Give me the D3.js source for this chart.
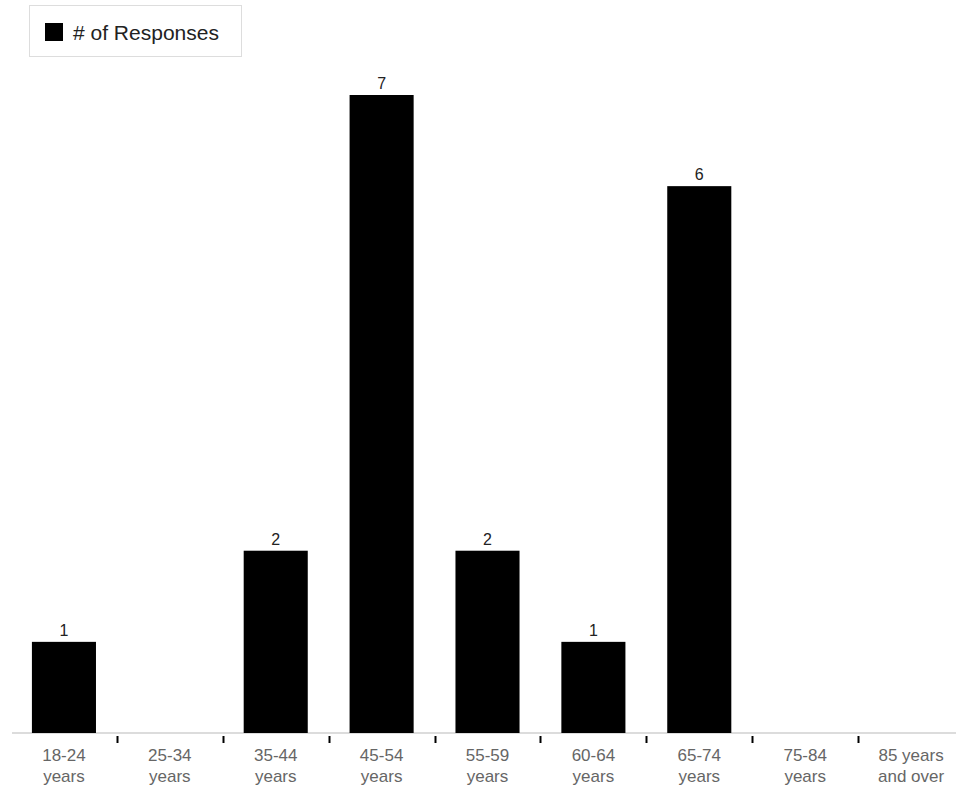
<!DOCTYPE html>
<html><head><meta charset="utf-8">
<script src="https://cdn.jsdelivr.net/npm/d3@7"></script>
<style>body{margin:0;background:#fff}svg{display:block;font-family:"Liberation Sans",Arial,sans-serif}</style>
</head><body>
<svg id="c" width="956" height="792"></svg>
<script>
const categories = ["18-24 years","25-34 years","35-44 years","45-54 years","55-59 years","60-64 years","65-74 years","75-84 years","85 years and over"];
const tickLines = [["18-24","years"],["25-34","years"],["35-44","years"],["45-54","years"],["55-59","years"],["60-64","years"],["65-74","years"],["75-84","years"],["85 years","and over"]];
const responses = [1,0,2,7,2,1,6,0,0];
const seriesName = "# of Responses";

const data = categories.map((c, i) => ({cat: c, value: responses[i], lines: tickLines[i]}));

const svg = d3.select("#c");
const x = d3.scaleBand().domain(categories).range([11, 964]).paddingInner(0.395).paddingOuter(0.1975);
const y = d3.scaleLinear().domain([0, 7]).range([733, 95]);

// axis line
svg.append("line").attr("x1", 12).attr("x2", 956).attr("y1", 733).attr("y2", 733)
  .attr("stroke", "#dcdcdc").attr("stroke-width", 2);

// ticks between bands
const step = x.step();
categories.slice(1).forEach(c => {
  const xx = Math.round(x(c) - x.paddingInner()*step/2) + 0.5;
  svg.append("line").attr("x1", xx).attr("x2", xx).attr("y1", 736).attr("y2", 743)
    .attr("stroke", "#000").attr("stroke-width", 2);
});

// bars
svg.append("g").selectAll("rect").data(data).join("rect")
  .attr("x", d => x(d.cat))
  .attr("width", x.bandwidth())
  .attr("y", d => y(d.value))
  .attr("height", d => y(0) - y(d.value))
  .attr("fill", "#000");

// value labels
svg.append("g").selectAll("text").data(data.filter(d => d.value > 0)).join("text")
  .attr("x", d => x(d.cat) + x.bandwidth()/2)
  .attr("y", d => y(d.value) - 6)
  .attr("text-anchor", "middle")
  .attr("font-size", 16)
  .attr("fill", "#222")
  .text(d => d.value);

// tick labels
const tl = svg.append("g");
data.forEach(d => {
  const cx = x(d.cat) + x.bandwidth()/2;
  const t = tl.append("text").attr("text-anchor", "middle").attr("font-size", 17).attr("fill", "#666");
  d.lines.forEach((ln, j) => {
    t.append("tspan").attr("x", cx).attr("y", 761 + j*21).text(ln);
  });
});

// legend
const lg = svg.append("g");
lg.append("rect").attr("x", 29.5).attr("y", 5.5).attr("width", 212).attr("height", 51)
  .attr("fill", "#fff").attr("stroke", "#ddd");
lg.append("rect").attr("x", 45).attr("y", 23).attr("width", 18).attr("height", 18).attr("fill", "#000");
lg.append("text").attr("x", 73).attr("y", 40).attr("font-size", 21).attr("fill", "#222").text(seriesName);
</script>
</body></html>
